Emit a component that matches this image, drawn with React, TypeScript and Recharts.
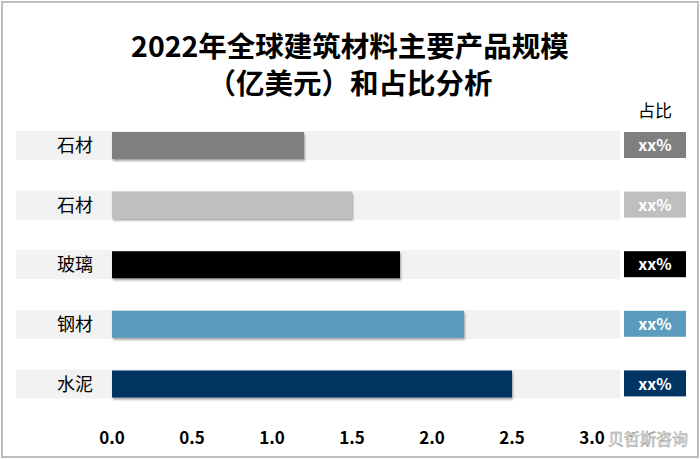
import React from 'react';
import { BarChart, Bar, XAxis, YAxis, Cell } from 'recharts';

const categories = ['石材', '石材', '玻璃', '钢材', '水泥'];
const values = [1.2, 1.5, 1.8, 2.2, 2.5];
const shareLabels = ['xx%', 'xx%', 'xx%', 'xx%', 'xx%'];
const barColors = ['#7F7F7F', '#BFBFBF', '#000000', '#5B9BBD', '#003462'];
const xTicks = [0, 0.5, 1, 1.5, 2, 2.5, 3];

const data = categories.map((name, i) => ({
  name,
  value: values[i],
  share: shareLabels[i],
}));

const FONT = '"Noto Sans CJK SC", "Noto Sans", sans-serif';

// grey band behind each row + the share box on the right
const renderBackground = (props: any) => {
  const { x, y, width, height, index } = props;
  return (
    <g>
      <rect x={x - 96} y={y - 1} width={width + 124} height={height + 2} fill="#F2F2F2" />
      <rect x={x + width + 32} y={y} width={62} height={height - 1} fill={barColors[index]} />
      <text
        x={x + width + 63}
        y={y + height / 2}
        dy="0.35em"
        textAnchor="middle"
        fill="#FFFFFF"
        fontFamily={FONT}
        fontWeight={700}
        fontSize={16}
      >
        {shareLabels[index]}
      </text>
    </g>
  );
};

export default function App() {
  return (
    <div style={{ position: 'absolute', left: 0, top: 0, width: 700, height: 459, background: '#fff' }}>
      <div
        style={{
          position: 'absolute',
          left: 1,
          top: 1,
          width: 698,
          height: 457,
          boxSizing: 'border-box',
          border: '2px solid #BDBDBD',
        }}
      />
      <div
        style={{
          position: 'absolute',
          left: 0,
          top: 26,
          width: 700,
          textAlign: 'center',
          fontFamily: FONT,
          fontWeight: 700,
          fontSize: 28.5,
          lineHeight: '37px',
          color: '#000',
        }}
      >
        <div>2022年全球建筑材料主要产品规模</div>
        <div>（亿美元）和占比分析</div>
      </div>
      <div
        style={{
          position: 'absolute',
          left: 624,
          top: 99,
          width: 62,
          textAlign: 'center',
          fontFamily: FONT,
          fontSize: 17,
          lineHeight: '22px',
          color: '#000',
        }}
      >
        占比
      </div>
      <div style={{ position: 'absolute', left: 0, top: 0 }}>
        <svg width={0} height={0} style={{ position: 'absolute' }}>
          <defs>
            <filter id="barShadow" x="-5%" y="-20%" width="110%" height="150%">
              <feDropShadow dx="1" dy="2" stdDeviation="1.2" floodColor="#000" floodOpacity="0.35" />
            </filter>
          </defs>
        </svg>
        <BarChart
          width={700}
          height={459}
          data={data}
          layout="vertical"
          margin={{ top: 116, right: 108, left: 0, bottom: 15 }}
          barSize={27}
        >
          <XAxis
            type="number"
            domain={[0, 3]}
            ticks={xTicks}
            tickFormatter={(v: number) => v.toFixed(1)}
            axisLine={false}
            tickLine={false}
            tickMargin={12}
            height={30}
            tick={{ fill: '#000', fontSize: 17, fontWeight: 700, fontFamily: FONT }}
          />
          <YAxis
            type="category"
            dataKey="name"
            width={112}
            axisLine={false}
            tickLine={false}
            tickMargin={13}
            tick={{ fill: '#000', fontSize: 18, fontFamily: FONT }}
          />
          <Bar
            dataKey="value"
            isAnimationActive={false}
            background={renderBackground}
            style={{ filter: 'url(#barShadow)' }}
          >
            {data.map((d, i) => (
              <Cell key={i} fill={barColors[i]} />
            ))}
          </Bar>
        </BarChart>
      </div>
      <div
        style={{
          position: 'absolute',
          left: 608,
          top: 428,
          fontFamily: FONT,
          fontSize: 16,
          lineHeight: '20px',
          whiteSpace: 'nowrap',
          color: 'rgba(255,255,255,0.75)',
          WebkitTextStroke: '0.6px #9A9A9A',
        }}
      >
        贝哲斯咨询
      </div>
    </div>
  );
}
